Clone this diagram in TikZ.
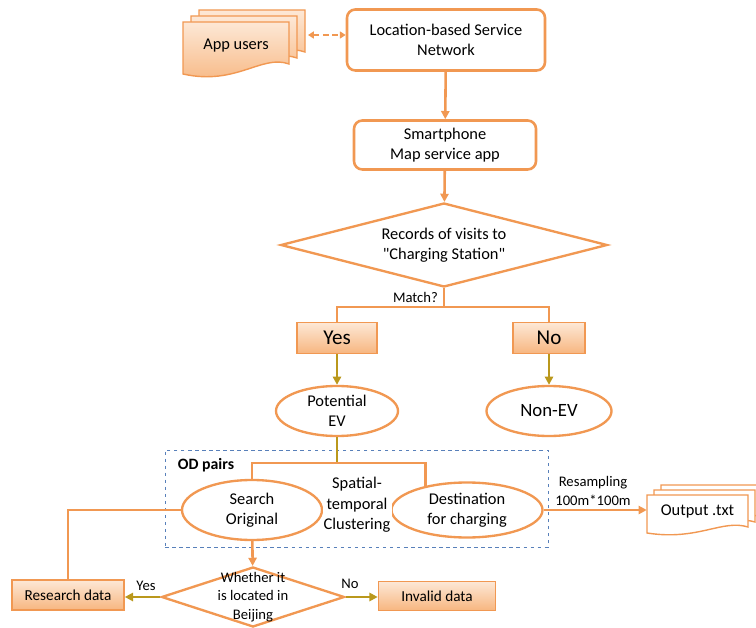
\documentclass[tikz,border=0pt]{standalone}
\usepackage{fontspec}
\setmainfont{Carlito}
\usetikzlibrary{shapes.geometric,arrows.meta}
\definecolor{orgline}{RGB}{241,152,82}
\definecolor{orgtop}{RGB}{253,232,214}
\definecolor{orgbot}{RGB}{247,182,128}
\definecolor{olivearrow}{RGB}{186,152,28}
\definecolor{odblue}{RGB}{88,128,186}
\tikzset{
  flowline/.style={draw=orgline, line width=2.2pt},
  flowarrow/.style={flowline, -{Triangle[length=7pt,width=7pt]}},
  olivearrow/.style={draw=olivearrow, line width=2.2pt, -{Triangle[length=7pt,width=7pt]}},
  roundbox/.style={draw=orgline, line width=2.2pt, rounded corners=0.25cm, fill=white, align=center},
  fillbox/.style={draw=orgline, line width=1.4pt, top color=orgtop, bottom color=orgbot, align=center, inner sep=0pt},
  decision/.style={diamond, draw=orgline, line width=2pt, inner sep=0pt, align=center, fill=white},
  oval/.style={ellipse, draw=orgline, line width=2pt, fill=white, align=center, inner sep=0pt},
  userpage/.style={draw=orgline, line width=1.2pt, top color=orgtop, bottom color=orgbot},
  outpage/.style={draw=orgline, line width=1.2pt, fill=white},
  smalltext/.style={font=\fontsize{12.5}{15.5}\selectfont, align=center}
}
\begin{document}
\begin{tikzpicture}[x=0.03cm, y=-0.03cm, font=\fontsize{14}{17.5}\selectfont]
\useasboundingbox (0,0) rectangle (756,628);

% Drawing stacked pages of app users
\foreach \dx/\dy in {16/-12, 8/-6, 0/0}
  \draw [userpage, shift={(\dx,\dy)}] (183,22) -- (289,22) -- (289,64) .. controls (262,54) and (236,86) .. (183,74) -- cycle;
\node (users) at (236,46) {App users};
\coordinate (usersedge) at (308,35);

% Drawing service network and app
\node [roundbox, minimum width=5.94cm, minimum height=1.83cm] (lbs) at (446,40) {Location-based Service\\Network};
\node [roundbox, minimum width=5.46cm, minimum height=1.47cm] (smart) at (445,145) {Smartphone\\Map service app};
\draw [flowline, dashed, dash pattern=on 5pt off 3pt, {Triangle[length=5pt,width=6pt]}-{Triangle[length=5pt,width=6pt]}] (usersedge) -- (lbs.west |- usersedge);
\draw [flowarrow] (lbs) -- (smart);

% Drawing decision on charging station records
\node [decision, aspect=3.9, minimum width=9.8cm, minimum height=2.52cm] (records) at (444,245) {Records of visits to\\\textquotedbl Charging Station\textquotedbl};
\draw [flowarrow] (smart) -- (records);
\node [smalltext, anchor=east] (match) at (442,297) {Match?};
\coordinate (matchfork) at (444,307);

% Drawing yes / no branches
\node [fillbox, minimum width=2.4cm, minimum height=0.93cm, font=\fontsize{18}{20}\selectfont] (yes) at (337,338) {Yes};
\node [fillbox, minimum width=2.16cm, minimum height=0.93cm, font=\fontsize{18}{20}\selectfont] (no) at (549,338) {No};
\draw [flowline] (records.south) -- (matchfork);
\draw [flowline] (yes.north) |- (matchfork) -| (no.north);
\node [oval, minimum width=3.66cm, minimum height=1.5cm] (potential) at (337,411) {Potential\\EV};
\node [oval, minimum width=3.75cm, minimum height=1.5cm, font=\fontsize{16}{18}\selectfont] (nonev) at (549,411) {Non-EV};
\draw [olivearrow] (yes) -- (potential);
\draw [olivearrow] (no) -- (nonev);

% Drawing OD pairs group
\node [draw=odblue, dashed, line width=0.8pt, minimum width=11.49cm, minimum height=2.91cm] (odpairs) at (356.5,498.5) {};
\node [font=\fontsize{13.5}{16}\selectfont\bfseries] (odlabel) at (206,465) {OD pairs};
\node [oval, minimum width=4.2cm, minimum height=1.8cm] (search) at (252,510) {Search\\Original};
\node [oval, minimum width=4.53cm, minimum height=1.65cm] (dest) at (467,510) {Destination\\for charging};
\coordinate (odfork) at (337,463);
\draw [flowline] (search) -- (dest);
\node [align=center, fill=white, inner sep=1pt] (cluster) at (357,505) {Spatial-\\temporal\\Clustering};
\draw [draw=olivearrow, line width=2.2pt] (potential.south) -- (odfork);
\draw [flowline] (search.north) |- (odfork) -| (dest.150);

% Drawing output pages
\foreach \dx/\dy in {14/-10, 7/-5, 0/0}
  \draw [outpage, shift={(\dx,\dy)}] (647,495) -- (748,495) -- (748,527) .. controls (722,519) and (698,541) .. (647,533) -- cycle;
\node [minimum width=3.03cm] (output) at (697.5,511) {Output .txt};
\draw [flowarrow] (dest.east) -- (dest.east -| output.west);
\node [smalltext] (resample) at (593,491) {Resampling\\100m*100m};

% Drawing decision on location
\node [decision, minimum width=5.49cm, minimum height=1.8cm] (whether) at (253,597) {};
\node [smalltext, font=\fontsize{12.5}{16}\selectfont] (wtext) at (whether) {Whether it\\is located in\\Beijing};
\draw [flowarrow] (search) -- (whether);
\node [fillbox, minimum width=3.36cm, minimum height=0.9cm, font=\fontsize{13}{15}\selectfont] (research) at (68,595) {Research data};
\node [fillbox, minimum width=3.51cm, minimum height=0.87cm, font=\fontsize{13}{15}\selectfont] (invalid) at (437,596) {Invalid data};
\draw [flowline] (search.west) -| (research.north);
\draw [olivearrow] (whether.west) -- (whether.west -| research.east);
\draw [olivearrow] (whether.east) -- (whether.east -| invalid.west);
\node [smalltext] (yeslabel) at (146,586) {Yes};
\node [smalltext] (nolabel) at (350,584) {No};
\end{tikzpicture}
\end{document}
